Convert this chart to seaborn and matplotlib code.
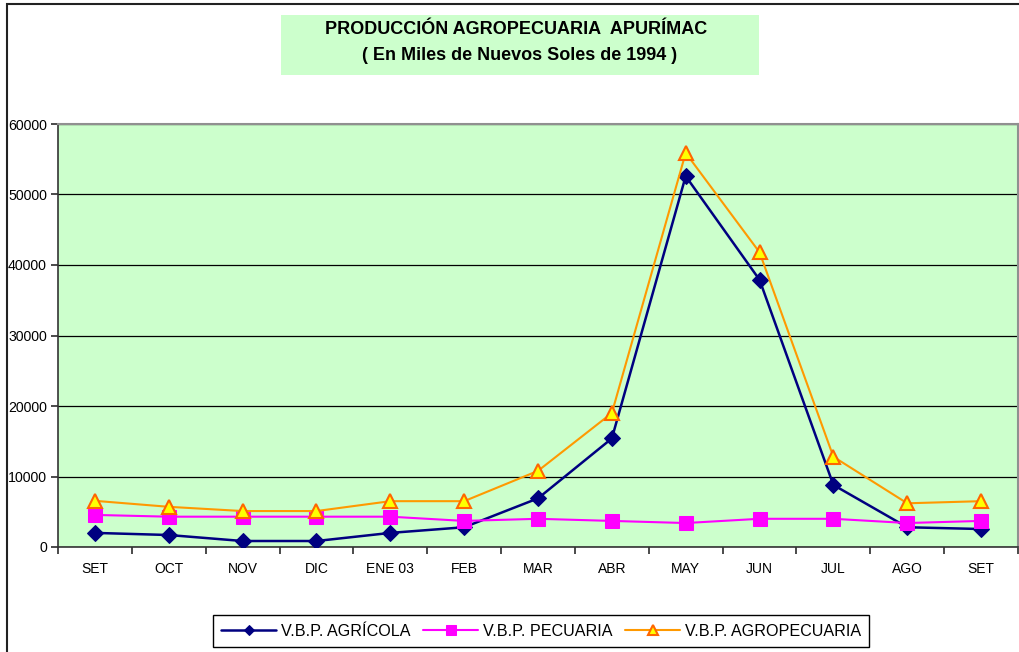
import pandas as pd
import seaborn as sns
import matplotlib.pyplot as plt
from matplotlib.patches import Rectangle

# month labels (the series runs from SET 2002 to SET 2003)
MONTHS = ["SET", "OCT", "NOV", "DIC", "ENE 03", "FEB", "MAR",
          "ABR", "MAY", "JUN", "JUL", "AGO", "SET"]

# values, in thousands of 1994 soles
AGRICOLA = [2000, 1700, 850, 850, 2000, 2800, 6900, 15400, 52600, 37900, 8800, 2800, 2550]
PECUARIA = [4550, 4300, 4300, 4300, 4300, 3700, 4000, 3700, 3400, 4000, 4000, 3400, 3700]
AGROPECUARIA = [6550, 5700, 5100, 5100, 6500, 6500, 10800, 19000, 55900, 41800, 12800, 6200, 6500]

BG_GREEN = "#CCFFCC"

sns.set_theme(style="white")
plt.rcParams["font.family"] = ["Liberation Sans", "DejaVu Sans"]
plt.rcParams.update({"text.color": "black", "xtick.color": "black", "ytick.color": "black"})


def build_frame():
    df = pd.DataFrame({
        "pos": range(len(MONTHS)),
        "V.B.P. AGRÍCOLA": AGRICOLA,
        "V.B.P. PECUARIA": PECUARIA,
        "V.B.P. AGROPECUARIA": AGROPECUARIA,
    })
    return df


def main():
    df = build_frame()
    fig = plt.figure(figsize=(10.2, 6.52), dpi=100)
    ax = fig.add_axes([58 / 1020, 105 / 652, 960 / 1020, 423 / 652])
    ax.set_facecolor(BG_GREEN)

    sns.lineplot(df, x="pos", y="V.B.P. AGRÍCOLA", ax=ax, label="V.B.P. AGRÍCOLA",
                 color="#000080", linewidth=1.8, marker="D", markersize=8,
                 markerfacecolor="#000080", markeredgecolor="#000080", zorder=3)
    sns.lineplot(df, x="pos", y="V.B.P. PECUARIA", ax=ax, label="V.B.P. PECUARIA",
                 color="#FF00FF", linewidth=1.5, marker="s", markersize=10,
                 markerfacecolor="#FF00FF", markeredgecolor="#FF00FF", zorder=4)
    sns.lineplot(df, x="pos", y="V.B.P. AGROPECUARIA", ax=ax, label="V.B.P. AGROPECUARIA",
                 color="#FF9900", linewidth=1.5, marker="^", markersize=10,
                 markerfacecolor="#FFFF00", markeredgecolor="#FF6600",
                 markeredgewidth=1.5, zorder=5)

    # axes ranges and ticks
    ax.set_xlim(-0.5, len(MONTHS) - 0.5)
    ax.set_ylim(0, 60000)
    ax.set_yticks(range(0, 60001, 10000))
    ax.set_yticklabels([str(v) for v in range(0, 60001, 10000)], fontsize=10.2)
    ax.set_xticks([i - 0.5 for i in range(len(MONTHS) + 1)])
    ax.set_xticklabels([])
    ax.set_xticks(range(len(MONTHS)), minor=True)
    ax.set_xticklabels(MONTHS, minor=True, fontsize=10)
    ax.tick_params(axis="x", which="major", direction="out", length=5, color="#333333",
                   bottom=True)
    ax.tick_params(axis="x", which="minor", length=0, pad=11, bottom=True)
    ax.tick_params(axis="y", direction="out", length=5, color="#333333", left=True, pad=3)
    ax.set_xlabel("")
    ax.set_ylabel("")

    ax.grid(axis="y", color="black", linewidth=0.9)
    ax.set_axisbelow(True)
    for side in ["left", "bottom"]:
        ax.spines[side].set_color("#333333")
        ax.spines[side].set_linewidth(1.2)
    for side in ["top", "right"]:
        ax.spines[side].set_color("#909090")
        ax.spines[side].set_linewidth(1.5)

    # legend along the bottom
    ax.legend(loc="center", bbox_to_anchor=(541 / 1020, 21 / 652),
              bbox_transform=fig.transFigure, ncol=3, fontsize=11.6,
              frameon=True, fancybox=False, edgecolor="black", framealpha=1,
              handlelength=3.4, handletextpad=0.3, columnspacing=0.8,
              borderpad=0.5, markerscale=0.7)
    ax.get_legend().get_frame().set_linewidth(1.0)

    # title box
    fig.patches.append(Rectangle((281 / 1020, 577 / 652), 478 / 1020, 60 / 652,
                                 transform=fig.transFigure, facecolor=BG_GREEN,
                                 edgecolor="none", zorder=0))
    fig.text(516 / 1020, 1 - 30 / 652, "PRODUCCIÓN AGROPECUARIA  APURÍMAC",
             ha="center", va="center", fontsize=13, fontweight="bold")
    fig.text(520 / 1020, 1 - 55 / 652, "( En Miles de Nuevos Soles de 1994 )",
             ha="center", va="center", fontsize=13, fontweight="bold")

    # outer chart border (clipped by the image at right and bottom)
    fig.patches.append(Rectangle((7 / 1020, -0.05), 1.1, 1.05 - 4 / 652,
                                 transform=fig.transFigure, facecolor="none",
                                 edgecolor="#222222", linewidth=1.5, zorder=0))

    fig.savefig("out.png", dpi=100)
    plt.close(fig)


if __name__ == "__main__":
    main()
